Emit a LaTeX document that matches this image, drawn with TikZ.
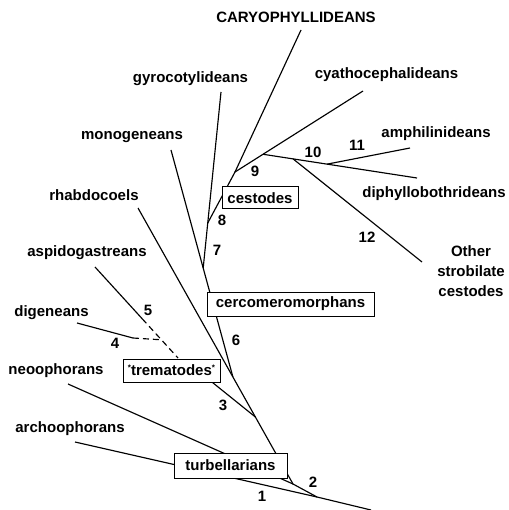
\documentclass[tikz,border=0pt]{standalone}
\usepackage{fontspec}
\setmainfont{Liberation Sans}
\usetikzlibrary{calc,backgrounds}
\begin{document}
\begin{tikzpicture}[x=1pt,y=-1pt,
  lbl/.style={font=\bfseries\fontsize{15}{20}\selectfont, inner sep=0pt},
  num/.style={font=\bfseries\fontsize{15}{18}\selectfont, inner sep=0pt},
  grp/.style={draw, fill=white, line width=1pt, inner sep=0pt,
              font=\bfseries\fontsize{15}{18}\selectfont},
  br/.style={line width=1.15pt},
  dsh/.style={line width=1.15pt, dash pattern=on 6pt off 4pt}]
\useasboundingbox (0,0) rectangle (508,510);

% terminal labels
\node[lbl] (cary)  at (296,17)    {CARYOPHYLLIDEANS};
\node[lbl] (gyro)  at (190.5,78.5){gyrocotylideans};
\node[lbl] (mono)  at (132,137)   {monogeneans};
\node[lbl] (rhab)  at (94,195)    {rhabdocoels};
\node[lbl] (aspi)  at (87,252.5)  {aspidogastreans};
\node[lbl] (dige)  at (51.5,312.5){digeneans};
\node[lbl] (neo)   at (56,370.5)  {neoophorans};
\node[lbl] (arch)  at (70,429)    {archoophorans};
\node[lbl] (cyath) at (386.5,75)  {cyathocephalideans};
\node[lbl] (amph)  at (436,134)   {amphilinideans};
\node[lbl] (diph)  at (434,193.5) {diphyllobothrideans};
\node[lbl, align=center] (other) at (471,271.5) {Other\\strobilate\\cestodes};

% group boxes
\node[grp, minimum width=113pt, minimum height=25pt] (turb) at (230.5,465.5) {turbellarians};
\node[grp, minimum width=97pt, minimum height=23pt] (trem) at (171.5,370.5)
  {\raisebox{5pt}{\footnotesize*}trematodes\raisebox{5pt}{\footnotesize*}};
\node[grp, minimum width=167pt, minimum height=24pt] (cerc) at (290.5,304) {cercomeromorphans};
\node[grp, minimum width=76pt, minimum height=22pt] (cest) at (260,198) {cestodes};

% branch tips and junctions
\coordinate (tCary)  at (301,30);
\coordinate (tGyro)  at (221,92);
\coordinate (tMono)  at (171,150);
\coordinate (tRhab)  at (138,208);
\coordinate (tAspi)  at (95,267);
\coordinate (tDige)  at (77,323);
\coordinate (tNeo)   at (68,384);
\coordinate (tArch)  at (75,442);
\coordinate (tCyath) at (363,91);
\coordinate (tAmph)  at (410,148);
\coordinate (tDiph)  at (417,178);
\coordinate (tOther) at (422,262);
\coordinate (root)   at (371,510);
\coordinate (j1) at (317,497);
\coordinate (j2) at (293,484);
\coordinate (j3) at ($(j2)!0.2428!(tRhab)$);
\coordinate (j6) at ($(j2)!0.3877!(tRhab)$);
\coordinate (j7) at ($(j6)!0.48!(tMono)$);
\coordinate (j8) at ($(j7)!0.256!(tGyro)$);
\coordinate (j9) at (235,172);
\coordinate (j10a) at ($(j9)!0.219!(tCyath)$);
\coordinate (j10b) at ($(j10a)!0.195!(tDiph)$);
\coordinate (j11) at ($(j10a)!0.416!(tDiph)$);
\coordinate (tTrem) at (178,358);
\coordinate (a5) at ($(tAspi)!0.57!(tTrem)$);
\coordinate (j45) at ($(tAspi)!0.8!(tTrem)$);
\coordinate (d4) at (133,338);
\coordinate (tremR) at ($(trem.south east)+(-8,0)$);

\begin{scope}[on background layer]
\draw[br] (root) -- (j1) -- (j2);
\draw[br] (j1) -- (tArch);
\draw[br] (j2) -- (tNeo);
\draw[br] (j2) -- (tRhab);
\draw[br] (j3) -- (tremR);
\draw[br] (j6) -- (tMono);
\draw[br] (j7) -- (tGyro);
\draw[br] (j8) -- (j9);
\draw[br] (j9) -- (tCary);
\draw[br] (j9) -- (tCyath);
\draw[br] (j10a) -- (tDiph);
\draw[br] (j10b) -- (tOther);
\draw[br] (j11) -- (tAmph);
\draw[br] (tAspi) -- (a5);
\draw[dsh] (a5) -- (tTrem);
\draw[br] (tDige) -- (d4);
\draw[dsh] (d4) -- (j45);
\end{scope}

% branch numbers
\node[num] (n1)  at (262,496) {1};
\node[num] (n2)  at (313,482) {2};
\node[num] (n3)  at (223,405) {3};
\node[num] (n4)  at (115,343) {4};
\node[num] (n5)  at (148,310) {5};
\node[num] (n6)  at (236,340) {6};
\node[num] (n7)  at (217,250) {7};
\node[num] (n8)  at (222,220) {8};
\node[num] (n9)  at (255,171) {9};
\node[num] (n10) at (313,152) {10};
\node[num] (n11) at (357,145) {11};
\node[num] (n12) at (367,237) {12};
\end{tikzpicture}
\end{document}
